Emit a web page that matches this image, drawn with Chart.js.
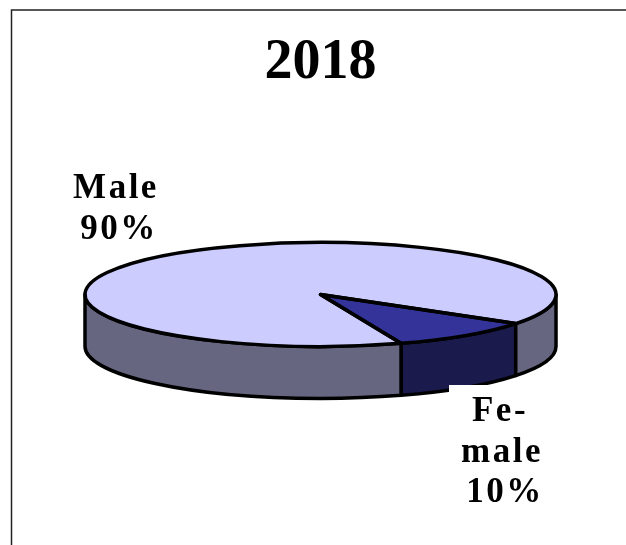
<!DOCTYPE html>
<html>
<head>
<meta charset="utf-8">
<title>2018</title>
<style>
  html, body { margin: 0; padding: 0; background: #fff; }
  canvas { display: block; }
</style>
</head>
<body>
<canvas id="pieChart" width="626" height="545"></canvas>
<script src="https://cdn.jsdelivr.net/npm/chart.js@4/dist/chart.umd.min.js"></script>
<script>
const chartTitle = "2018";
const categories = ["Female", "Male"];
const shares = [10, 90];
const topColors = ["#333399", "#ccccff"];
const wallColors = ["#1a1a4d", "#666680"];
const labelLines = [["Fe-", "male", "10%"], ["Male", "90%"]];

const serif = "'Liberation Serif', serif";

// squash of the pie top and height of its side wall
const tilt = 0.2208;
const wallDepth = 52;

// Chart.js has no 3D pie, so flatten the arcs and add the wall by hand
const pie3d = {
  id: "pie3d",
  beforeDraw(chart) {
    const ctx = chart.ctx;
    ctx.save();
    ctx.fillStyle = "#fff";
    ctx.fillRect(0, 0, chart.width, chart.height);
    ctx.strokeStyle = "#222";
    ctx.lineWidth = 1.5;
    ctx.beginPath();
    ctx.moveTo(11.5, chart.height);
    ctx.lineTo(11.5, 10);
    ctx.lineTo(chart.width, 10);
    ctx.stroke();
    ctx.restore();
  },
  beforeDatasetsDraw(chart) {
    const ctx = chart.ctx;
    const arcs = chart.getDatasetMeta(0).data;
    const cy = arcs[0].y;

    ctx.save();
    ctx.lineWidth = 3.5;
    ctx.lineJoin = "round";
    ctx.strokeStyle = "#000";
    arcs.forEach((arc, i) => {
      let start = arc.startAngle % (2 * Math.PI);
      if (start < 0) start += 2 * Math.PI;
      const end = start + (arc.endAngle - arc.startAngle);
      // only the front half of the rim can be seen
      [0, 2 * Math.PI].forEach((shift) => {
        const from = Math.max(start, shift);
        const to = Math.min(end, shift + Math.PI);
        if (from >= to) return;
        const rx = arc.outerRadius;
        const ry = rx * tilt;
        ctx.beginPath();
        ctx.ellipse(arc.x, cy, rx, ry, 0, from, to);
        ctx.ellipse(arc.x, cy + wallDepth, rx, ry, 0, to, from, true);
        ctx.closePath();
        ctx.fillStyle = wallColors[i];
        ctx.fill();
        ctx.stroke();
      });
    });
    ctx.restore();

    ctx.save();
    ctx.translate(0, cy);
    ctx.scale(1, tilt);
    ctx.translate(0, -cy);
  },
  afterDatasetsDraw(chart) {
    const ctx = chart.ctx;
    ctx.restore();

    const arcs = chart.getDatasetMeta(0).data;
    ctx.save();
    ctx.lineWidth = 3.5;
    ctx.lineJoin = "round";
    ctx.strokeStyle = "#000";
    arcs.forEach((arc) => {
      const rx = arc.outerRadius;
      ctx.beginPath();
      ctx.moveTo(arc.x, arc.y);
      ctx.ellipse(arc.x, arc.y, rx, rx * tilt, 0, arc.startAngle, arc.endAngle);
      ctx.closePath();
      ctx.stroke();
    });
    ctx.restore();
  },
  afterDraw(chart) {
    const ctx = chart.ctx;
    ctx.save();
    // the female label sits on a white box that cuts into the wall
    ctx.fillStyle = "#fff";
    ctx.fillRect(449, 385, 110, 130);

    ctx.fillStyle = "#000";
    ctx.font = "bold 35px " + serif;
    ctx.letterSpacing = "2.5px";
    ctx.textAlign = "center";
    ctx.textBaseline = "alphabetic";
    const anchors = [[[500, 421], [502, 462], [505, 502]], [[116, 198], [119, 239]]];
    labelLines.forEach((lines, i) => {
      lines.forEach((line, j) => {
        ctx.fillText(line, anchors[i][j][0], anchors[i][j][1]);
      });
    });
    ctx.restore();
  },
};

new Chart(document.getElementById("pieChart"), {
  type: "pie",
  data: {
    labels: categories,
    datasets: [
      {
        data: shares,
        backgroundColor: topColors,
        borderWidth: 0,
        radius: 235.5,
        clip: false,
      },
    ],
  },
  options: {
    responsive: false,
    animation: false,
    rotation: 124,
    layout: { padding: { left: 85, right: 70, bottom: 48 } },
    plugins: {
      legend: { display: false },
      tooltip: { enabled: false },
      title: {
        display: true,
        text: chartTitle,
        color: "#000",
        font: { family: serif, size: 56, weight: "bold", lineHeight: 1 },
        padding: { top: 36, bottom: 0 },
      },
    },
  },
  plugins: [pie3d],
});
</script>
</body>
</html>
